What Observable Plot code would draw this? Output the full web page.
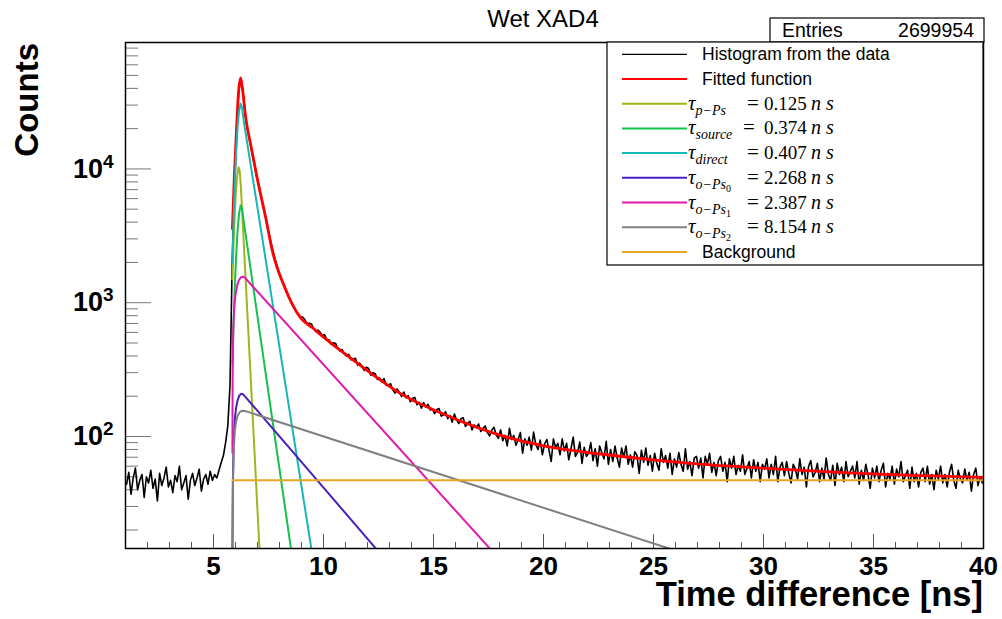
<!DOCTYPE html>
<html><head><meta charset="utf-8">
<script src="https://cdn.jsdelivr.net/npm/d3@7"></script>
<script src="https://cdn.jsdelivr.net/npm/@observablehq/plot@0.6"></script>
<style>
body{margin:0;background:#fff;}
#chart{position:relative;width:1002px;height:619px;}
</style>
</head><body><div id="chart"></div>
<script>
// ---------- data ----------
const title = "Wet XAD4";
const entries = "2699954";
const xLabel = "Time difference [ns]";
const yLabel = "Counts";
const xMajor = [5, 10, 15, 20, 25, 30, 35, 40];
const xMinor = [2,3,4,6,7,8,9,11,12,13,14,16,17,18,19,21,22,23,24,26,27,28,29,31,32,33,34,36,37,38,39];
const yMajor = [100, 1000, 10000];
const yMinor = [20,30,40,50,60,70,80,90,200,300,400,500,600,700,800,900,2000,3000,4000,5000,6000,7000,8000,9000,20000,30000,40000,50000,60000,70000,80000];

// histogram: bins of 0.1 ns starting at 1.0 ns
const binStart = 1.0, binWidth = 0.1;
const counts = [
44,54,37,49,58,40,47,52,35,50,
45,56,41,48,33,53,43,49,59,42,
47,38,51,46,60,40,45,51,34,47,
53,43,49,57,39,48,52,44,55,47,
52,49,56,64,72,90,120,240,2000,8000,
20000,39000,47500,37000,25500,19500,16200,13300,10900,8900,
7700,6400,5300,4500,3750,3150,2650,2280,1970,1720,
1540,1400,1290,1190,1080,1010,935,870,818,782,
780,748,696,703,694,640,608,625,600,570,
575,530,529,488,502,496,457,435,447,412,
399,411,374,380,384,342,353,334,312,329,
322,287,300,295,267,274,258,271,242,241,
248,223,211,227,214,199,215,195,202,182,
193,196,173,180,163,179,166,174,158,160,
148,159,162,142,145,153,136,143,128,147,
133,125,136,138,119,125,130,112,122,117,
124,109,115,120,107,101,112,117,103,97,
112,93,102,85,115,95,102,86,95,107,
75,96,86,99,79,108,87,80,94,73,
88,95,79,65,96,83,89,73,96,78,
89,67,81,99,71,76,91,63,83,71,
75,90,66,81,60,85,76,68,92,62,
80,65,85,69,59,82,70,85,62,73,
59,77,72,53,79,64,82,61,72,55,
75,63,56,81,64,72,58,75,52,68,
59,76,62,55,81,57,65,51,69,71,
58,69,49,71,62,75,54,64,51,66,
71,55,64,46,68,58,71,52,61,55,
73,52,58,65,49,67,55,64,46,62,
57,68,49,62,52,71,46,59,64,51,
65,53,45,62,57,48,68,52,59,42,
60,66,50,54,63,46,58,48,69,52,
47,61,43,63,52,59,46,65,50,55,
60,49,65,44,56,47,62,52,41,58,
49,60,46,56,63,42,53,48,60,44,
57,50,65,46,51,56,41,59,46,53,
42,54,58,46,60,44,52,40,56,48,
60,45,52,42,54,62,47,41,56,48,
45,57,47,54,39,52,58,43,50,45
];

// fitted function
const fitT = [5.86,5.95,6.05,6.13,6.23,6.33,6.45,6.68,7.0,7.35,7.7,8.2,8.6,8.95,9.5,10,11.2,12.3,13.5,15.5,18.05,20,22.6,25,27,30,35,40];
const fitV = [3580,9000,20000,36000,48000,38000,25000,15500,8300,4500,2350,1350,960,774,650,553,389,285,209,146,102,85,74,67,62.5,58,52.5,49.4];

// components
const pPsT = [5.86,5.91,5.96,6.02,6.08,6.14,6.19,6.24,7.12];
const pPsV = [1500,2700,4300,6800,9000,10300,9700,7600,11.6];
const sourceT = [5.86,5.91,5.96,6.02,6.09,6.16,6.23,6.3,6.38,8.6];
const sourceV = [350,700,1200,2100,3400,4600,5320,5000,4000,11.8];
const directT = [5.86,5.91,5.96,6.02,6.09,6.16,6.23,6.3,6.38,9.6];
const directV = [2000,4000,7000,12500,20000,27000,30800,28500,22500,10.1];
const oPs0T = [5.86,5.88,5.92,5.97,6.03,6.1,6.18,6.26,6.34,6.45,12.6];
const oPs0V = [13,45,95,135,165,188,203,209,207,198,13.2];
const oPs1T = [5.86,5.87,5.9,5.95,6.0,6.07,6.15,6.25,6.35,6.45,6.55,18];
const oPs1V = [76,300,650,950,1150,1330,1470,1550,1565,1530,1460,12.1];
const oPs2T = [5.86,5.88,5.92,5.97,6.03,6.1,6.18,6.27,6.36,6.5,26.5];
const oPs2V = [15,40,80,110,130,143,151,155,156,154,13.2];
const bgT = [5.86,40];
const bgV = [47,47];

const legendNames = ["Histogram from the data","Fitted function","p−Ps","source","direct","o−Ps","o−Ps","o−Ps","Background"];
const legendSubSub = [null,null,null,null,null,"0","1","2",null];
const legendTau = [null,null,"0.125","0.374","0.407","2.268","2.387","8.154",null];
const colors = ["#000000","#ff0000","#a0b51c","#14c24c","#17b7b7","#4d1fbf","#e01aae","#808080","#e6a52a"];

// ---------- build ----------
const W = 1002, H = 619, ML = 125, MR = 19, MT = 42, MB = 71;
const innerW = W - ML - MR, innerH = H - MT - MB;

const hist = counts.map((v, i) => ({t: binStart + (i + 0.5) * binWidth, v}));
const zip = (T, V) => T.map((t, i) => ({t, v: V[i]}));
const series = [
  zip(pPsT, pPsV), zip(sourceT, sourceV), zip(directT, directV),
  zip(oPs0T, oPs0V), zip(oPs1T, oPs1V), zip(oPs2T, oPs2V), zip(bgT, bgV)
];

const plot = Plot.plot({
  width: W, height: H,
  marginLeft: ML, marginRight: MR, marginTop: MT, marginBottom: MB,
  style: {fontFamily: "'Liberation Sans', Arial, sans-serif", background: "white", color: "black"},
  x: {domain: [1, 40]},
  y: {type: "log", domain: [14.55, 88100]},
  marks: [
    Plot.tickX(xMinor, {x: d => d, insetTop: innerH - 6, stroke: "#555"}),
    Plot.tickX(xMajor, {x: d => d, insetTop: innerH - 14, stroke: "#555"}),
    Plot.tickY(yMinor, {y: d => d, insetRight: innerW - 13, stroke: "#777"}),
    Plot.tickY(yMajor, {y: d => d, insetRight: innerW - 26, stroke: "#777"}),
    Plot.axisX({ticks: xMajor, tickSize: 0, tickPadding: 8, fontSize: 26, fontWeight: "bold", label: null}),
    Plot.axisY({ticks: yMajor, tickSize: 0, tickPadding: 12, fontSize: 27, fontWeight: "bold", label: null,
      tickFormat: d => "10|" + Math.round(Math.log10(d))}),
    Plot.line(hist, {x: "t", y: "v", curve: "linear", stroke: "black", strokeWidth: 1.6, clip: true}),
    Plot.line(zip(fitT, fitV), {x: "t", y: "v", curve: "monotone-x", stroke: colors[1], strokeWidth: 2.8, clip: true}),
    ...series.map((s, i) => Plot.line(s, {x: "t", y: "v", curve: "linear", stroke: colors[i + 2], strokeWidth: 2, clip: true})),
    Plot.frame({stroke: "black", strokeWidth: 1.5})
  ]
});
document.getElementById("chart").appendChild(plot);

const svg = d3.select(plot);
// superscript exponents on y tick labels
svg.selectAll('[aria-label="y-axis tick label"] text').each(function() {
  const s = this.textContent.split("|");
  const t = d3.select(this);
  t.text(null);
  t.append("tspan").text(s[0]);
  t.append("tspan").attr("dy", -10).attr("font-size", 19).text(s[1]);
});

const sans = "'Liberation Sans', Arial, sans-serif";
const serif = "'Liberation Serif', 'Times New Roman', serif";
const g = svg.append("g").attr("text-anchor", "start");

// title
g.append("text").attr("x", 543).attr("y", 27).attr("text-anchor", "middle")
  .attr("font-family", sans).attr("font-size", 24).text(title);

// axis titles
g.append("text").attr("transform", "translate(38,43) rotate(-90)").attr("text-anchor", "end")
  .attr("font-family", sans).attr("font-weight", "bold").attr("font-size", 33).text(yLabel);
g.append("text").attr("x", 983).attr("y", 606).attr("text-anchor", "end")
  .attr("font-family", sans).attr("font-weight", "bold").attr("font-size", 34.5).text(xLabel);

// entries box
g.append("rect").attr("x", 770).attr("y", 18).attr("width", 214).attr("height", 24)
  .attr("fill", "white").attr("stroke", "black").attr("stroke-width", 1.2);
g.append("text").attr("x", 782).attr("y", 37).attr("text-anchor", "start").attr("font-family", sans).attr("font-size", 19.5).text("Entries");
g.append("text").attr("x", 974).attr("y", 37).attr("text-anchor", "end").attr("font-family", sans).attr("font-size", 19.5).text(entries);

// legend box
g.append("rect").attr("x", 607).attr("y", 42).attr("width", 376).attr("height", 223)
  .attr("fill", "white").attr("stroke", "black").attr("stroke-width", 1.2);
legendNames.forEach((name, i) => {
  const y = 54.3 + 24.7 * i;
  g.append("line").attr("x1", 622).attr("x2", 687).attr("y1", y).attr("y2", y)
    .attr("stroke", colors[i]).attr("stroke-width", i === 0 ? 1.2 : 2);
  if (legendTau[i] === null) {
    g.append("text").attr("x", 702).attr("y", y + 6).attr("text-anchor", "start")
      .attr("font-family", sans).attr("font-size", 17.5).text(name);
  } else {
    const t = g.append("text").attr("x", 688).attr("y", y + 6).attr("text-anchor", "start")
      .attr("font-family", serif).attr("font-size", 21);
    t.append("tspan").attr("font-style", "italic").text("τ");
    t.append("tspan").attr("font-style", "italic").attr("font-size", 14).attr("dy", 5).text(name);
    let back = -5;
    if (legendSubSub[i]) {
      t.append("tspan").attr("font-size", 10).attr("dy", 3).text(legendSubSub[i]);
      back = -8;
    }
    t.append("tspan").attr("x", i === 3 ? 743 : 747).attr("dy", back).text("=");
    t.append("tspan").attr("x", 764).attr("font-size", 19).text(legendTau[i]);
    t.append("tspan").attr("x", 811).attr("font-size", 20).attr("font-style", "italic").text("n s");
  }
});
</script>
</body></html>
